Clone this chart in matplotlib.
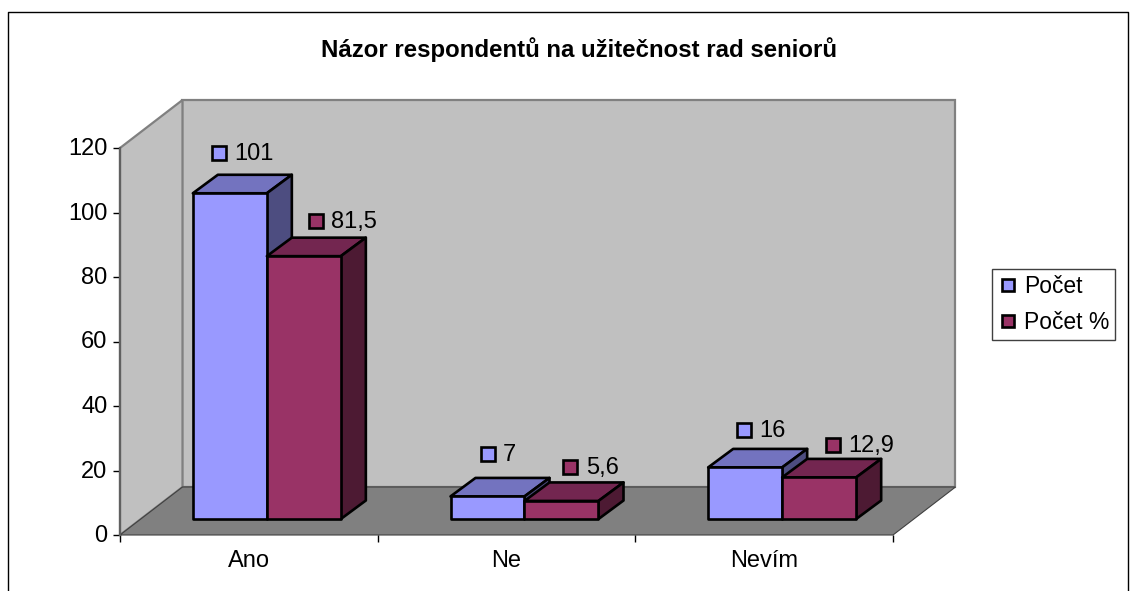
import matplotlib
matplotlib.use("Agg")
import matplotlib.pyplot as plt
from matplotlib.lines import Line2D
from matplotlib.patches import Polygon
from matplotlib.transforms import ScaledTranslation

plt.rcParams['font.family'] = ['Liberation Sans', 'DejaVu Sans']

categories = ["Ano", "Ne", "Nevím"]
pocet = [101, 7, 16]
pocet_pct = [81.5, 5.6, 12.9]
pocet_labels = ["101", "7", "16"]
pct_labels = ["81,5", "5,6", "12,9"]
yticks = [0, 20, 40, 60, 80, 100, 120]

W, H = 1138, 591
fig = plt.figure(figsize=(W / 100, H / 100), dpi=100)
# front plane of the fake 3d box, pixels 120..893 / 535..148
ax = fig.add_axes([120 / W, 1 - 535 / H, 773 / W, 387 / H])
ax.set_xlim(0, 3)
ax.set_ylim(0, 120)
ax.patch.set_visible(False)
for s in ax.spines.values():
    s.set_visible(False)

# depth of the box and the bars, in data units
wall_dx, wall_dy = 62.5 / 257.67, 48 / 3.225
bar_dx, bar_dy = 25 / 257.67, 18.5 / 3.225
off_x, off_y = 18 / 257.67, 16 / 3.225
bar_w = 74 / 257.67

GREY = "#808080"
ax.add_patch(Polygon([(wall_dx, wall_dy), (3 + wall_dx, wall_dy), (3 + wall_dx, 120 + wall_dy), (wall_dx, 120 + wall_dy)],
                     fc="#C0C0C0", ec=GREY, lw=1.6, clip_on=False, zorder=1))
ax.add_patch(Polygon([(0, 0), (wall_dx, wall_dy), (wall_dx, 120 + wall_dy), (0, 120)],
                     fc="#C0C0C0", ec=GREY, lw=1.6, clip_on=False, zorder=1))
ax.add_patch(Polygon([(0, 0), (3, 0), (3 + wall_dx, wall_dy), (wall_dx, wall_dy)],
                     fc=GREY, ec="#404040", lw=0.8, clip_on=False, zorder=1))
ax.plot([0, 0], [0, 120], color="#606060", lw=1.6, clip_on=False, zorder=2)


def draw_bar(x, val, front, top, side, z):
    y0, y1 = off_y, off_y + val
    x1 = x + bar_w
    kw = dict(ec="black", lw=1.9, joinstyle="round", clip_on=False, zorder=z)
    ax.add_patch(Polygon([(x, y1), (x1, y1), (x1 + bar_dx, y1 + bar_dy), (x + bar_dx, y1 + bar_dy)], fc=top, **kw))
    ax.add_patch(Polygon([(x1, y0), (x1 + bar_dx, y0 + bar_dy), (x1 + bar_dx, y1 + bar_dy), (x1, y1)], fc=side, **kw))
    ax.add_patch(Polygon([(x, y0), (x1, y0), (x1, y1), (x, y1)], fc=front, **kw))


BLUE = ("#9999FF", "#7373BF", "#4D4D80")
RED = ("#993366", "#732650", "#4D1A33")
# label offsets from the bar's top-left corner, pixels
blue_off = [(26, 41), (37, 43), (36, 38)]
red_off = [(49, 36), (46, 34), (51, 33)]

for i in range(len(categories)):
    x_a = i + 0.5 + off_x - bar_w
    x_b = i + 0.5 + off_x
    draw_bar(x_a, pocet[i], *BLUE, 3 + 2 * i)
    draw_bar(x_b, pocet_pct[i], *RED, 4 + 2 * i)
    for x, val, txt, col, o in [(x_a, pocet[i], pocet_labels[i], BLUE[0], blue_off[i]),
                                (x_b, pocet_pct[i], pct_labels[i], RED[0], red_off[i])]:
        y = off_y + val
        ax.plot([x], [y], marker="s", ms=9.5, mfc=col, mec="black", mew=1.9, clip_on=False, zorder=20,
                transform=ax.transData + ScaledTranslation(o[0] / 100, (o[1] - 0.5) / 100, fig.dpi_scale_trans))
        ax.annotate(txt, (x, y), xytext=((o[0] + 15.5) * 0.72, (o[1] - 1.5) * 0.72), textcoords="offset points",
                    fontsize=17, va="center", ha="left", color="black", zorder=21, annotation_clip=False)

ax.set_yticks(yticks)
ax.set_xticks(range(len(categories) + 1))
ax.set_xticklabels([])
ax.tick_params(axis="both", length=5, width=1, color="black", labelsize=17, pad=4)
for lab in ax.get_yticklabels():
    lab.set_transform(lab.get_transform() + ScaledTranslation(0, 1.5 / 100, fig.dpi_scale_trans))
for i, c in enumerate(categories):
    ax.annotate(c, (i + 0.5, 0), xytext=(0, -25 * 0.72 - 1), textcoords="offset points", ha="center", va="center",
                fontsize=17, annotation_clip=False)

fig.text(579 / W, 1 - 50 / H, "Názor respondentů na užitečnost rad seniorů", ha="center", va="center",
         fontsize=17.3, fontweight="bold")

handles = [Line2D([], [], ls="none", marker="s", ms=9, mfc=BLUE[0], mec="black", mew=1.9),
           Line2D([], [], ls="none", marker="s", ms=9, mfc=RED[0], mec="black", mew=1.9)]
leg = fig.legend(handles, ["Počet", "Počet %"], loc="upper left", bbox_to_anchor=(992 / W, 1 - 269 / H),
                 borderaxespad=0, fontsize=16.5, fancybox=False, edgecolor="#404040", framealpha=1,
                 handlelength=0.8, handletextpad=0.3, labelspacing=0.55, borderpad=0.28)
leg.get_frame().set_linewidth(1)

# outer chart frame, no bottom edge
fx = [8 / W, 8 / W, 1128 / W, 1128 / W]
fy = [0, 1 - 12 / H, 1 - 12 / H, 0]
fig.add_artist(Line2D(fx, fy, color="black", lw=1))

fig.savefig("out.png", dpi=100)
